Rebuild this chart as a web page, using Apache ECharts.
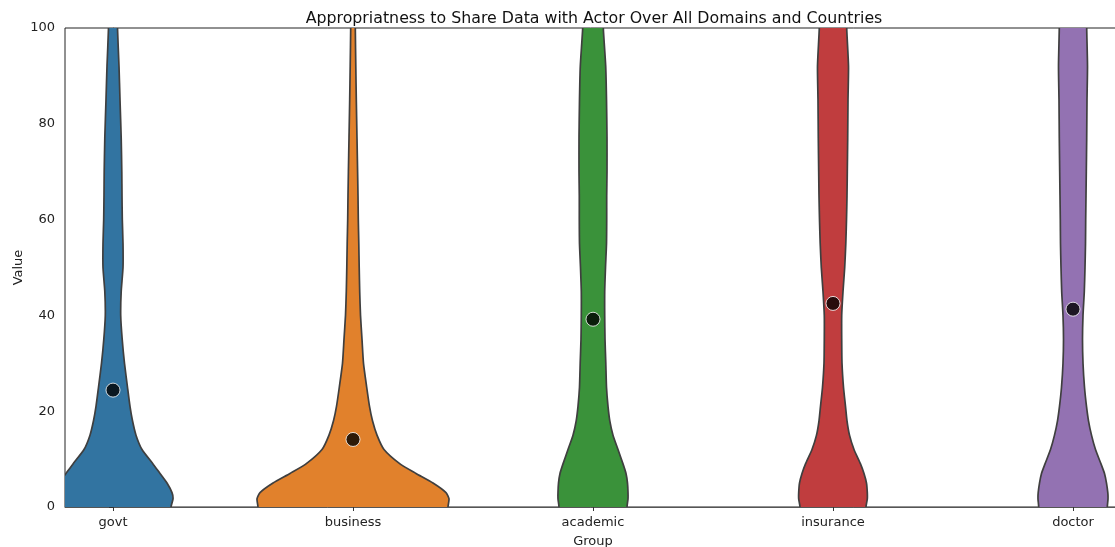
<!DOCTYPE html>
<html>
<head>
<meta charset="UTF-8">
<title>Appropriatness to Share Data with Actor</title>
<script src="https://cdn.jsdelivr.net/npm/echarts@6/dist/echarts.min.js"></script>
<style>
  html, body { margin: 0; padding: 0; background: #fff; }
  #chart { width: 1115px; height: 547px; }
</style>
</head>
<body>
<div id="chart"></div>
<script type="text/javascript">
// groups on the x axis
var groups = ['govt', 'business', 'academic', 'insurance', 'doctor'];
// value levels where the violin half-width was read
var levels = [0, 1.7, 3, 5, 7, 9, 12, 15, 18, 21, 25, 30, 35, 40, 45, 50, 55, 60, 65, 70, 77, 85, 92, 100];
// density half-widths per level (in 1/240 of a category step)
var govtDensity      = [58, 60, 59, 54, 47, 40, 29, 23, 19.5, 17, 14.5, 11.5, 9.2, 7.7, 8.2, 10, 10, 9.3, 9, 8.8, 8.2, 7, 6, 4.5];
var businessDensity  = [95, 96, 93, 80, 63, 47, 31, 24, 19.5, 16.5, 13.7, 10.5, 9, 7.5, 6.7, 6.2, 5.8, 5.3, 5, 4.6, 4, 3.3, 2.8, 2.3];
var academicDensity  = [34, 35, 35, 34.5, 33, 30, 25, 20, 16.8, 15, 13.5, 12.8, 12, 11.7, 11.7, 12.5, 13.5, 13.7, 13.7, 14, 14, 13.5, 12.7, 10.3];
var insuranceDensity = [33, 34.3, 34.3, 33.5, 31, 27.5, 21, 16.5, 14, 12.5, 10.5, 9, 8.7, 8.7, 10, 11.7, 12.8, 13.5, 14, 14.3, 14.7, 15, 15.5, 13.7];
var doctorDensity    = [34.3, 35, 34.8, 33.5, 31.5, 28, 22.5, 18.5, 15.5, 13.5, 11.5, 10, 9.5, 10, 11.3, 12, 12.5, 12.7, 13, 13.3, 13.7, 14, 14.5, 13.7];
// mean value per group
var means = [24.4, 14.1, 39.2, 42.5, 41.3];

var densities = [govtDensity, businessDensity, academicDensity, insuranceDensity, doctorDensity];
var colors = ['#3274a1', '#e1812c', '#3a923a', '#c03d3e', '#9372b2'];
var WIDTH_SCALE = 1 / 240;
var FONT = 'DejaVu Sans';

var myChart = echarts.init(document.getElementById('chart'));

function renderViolin(params, api) {
    var i = api.value(0);
    var d = densities[i];
    var right = [], left = [];
    // stretch past the axis ends, the grid clip cuts them flat
    right.push(api.coord([i + d[0] * WIDTH_SCALE, -4]));
    left.push(api.coord([i - d[0] * WIDTH_SCALE, -4]));
    for (var k = 0; k < levels.length; k++) {
        right.push(api.coord([i + d[k] * WIDTH_SCALE, levels[k]]));
        left.push(api.coord([i - d[k] * WIDTH_SCALE, levels[k]]));
    }
    var last = d[d.length - 1];
    right.push(api.coord([i + last * WIDTH_SCALE, 104]));
    left.push(api.coord([i - last * WIDTH_SCALE, 104]));
    var points = right.concat(left.reverse());
    return {
        type: 'polygon',
        shape: { points: points, smooth: 0.2 },
        style: { fill: colors[i], stroke: '#3f3f3f', lineWidth: 1.7 }
    };
}

var violinData = [];
var meanData = [];
for (var i = 0; i < groups.length; i++) {
    violinData.push([i, 50]);
    meanData.push([i, means[i]]);
}

myChart.setOption({
    animation: false,
    title: {
        text: 'Appropriatness to Share Data with Actor Over All Domains and Countries',
        left: 589,
        textAlign: 'center',
        top: 6,
        textStyle: { fontFamily: FONT, fontSize: 15.8, fontWeight: 'normal', color: '#111' }
    },
    grid: {
        left: 65,
        top: 28,
        width: 1056,
        height: 479,
        outerBoundsMode: 'none',
        containLabel: false,
        show: true,
        borderColor: '#222',
        borderWidth: 1,
        backgroundColor: 'transparent'
    },
    xAxis: {
        type: 'value',
        min: -0.2,
        max: 4.2,
        name: 'Group',
        nameLocation: 'middle',
        nameGap: 28,
        nameTextStyle: { fontFamily: FONT, fontSize: 13, color: '#222' },
        splitLine: { show: false },
        axisLine: { lineStyle: { color: '#555', width: 1 } },
        axisTick: { show: true, length: 4, customValues: [0, 1, 2, 3, 4], lineStyle: { color: '#333' } },
        axisLabel: {
            customValues: [0, 1, 2, 3, 4],
            formatter: function (v) { return groups[Math.round(v)]; },
            fontFamily: FONT, fontSize: 13, color: '#222', margin: 9
        }
    },
    yAxis: {
        type: 'value',
        min: 0,
        max: 100,
        interval: 20,
        name: 'Value',
        nameLocation: 'middle',
        nameRotate: 90,
        nameGap: 40,
        nameMoveOverlap: false,
        nameTextStyle: { fontFamily: FONT, fontSize: 13, color: '#222' },
        splitLine: { show: false },
        axisLine: { show: true, lineStyle: { color: '#555', width: 1 } },
        axisTick: { show: true, length: 4, lineStyle: { color: '#333' } },
        axisLabel: { fontFamily: FONT, fontSize: 13, color: '#222', margin: 10 }
    },
    series: [
        {
            name: 'violin',
            type: 'custom',
            clip: true,
            renderItem: renderViolin,
            data: violinData,
            z: 2
        },
        {
            name: 'mean',
            type: 'scatter',
            data: meanData,
            symbolSize: 14,
            itemStyle: { color: '#000', borderColor: '#fff', borderWidth: 1 },
            z: 5
        }
    ]
});
</script>
</body>
</html>
